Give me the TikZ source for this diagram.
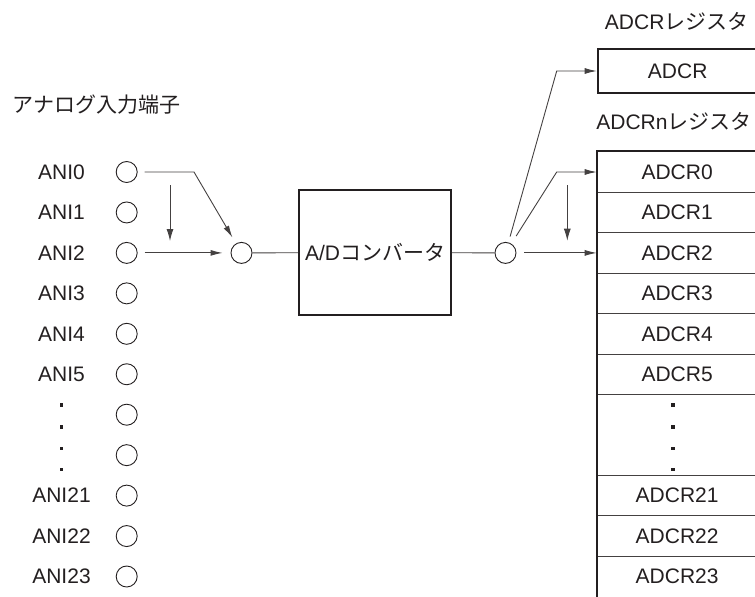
\documentclass[tikz,border=0pt]{standalone}
\usepackage{fontspec}
\setmainfont{Liberation Sans}
\newfontfamily\jp{Noto Sans CJK JP}
\usetikzlibrary{arrows.meta,calc}
\definecolor{ink}{HTML}{231F20}
\begin{document}
\begin{tikzpicture}[x=1pt,y=-1pt,
  font=\fontsize{21}{25}\selectfont, text=ink,
  pin/.style={circle,draw=ink,line width=0.9pt,minimum size=21pt,inner sep=0pt},
  lbl/.style={inner sep=0pt,anchor=center},
  wire/.style={draw=ink!85,line width=0.9pt},
  arr/.style={wire,-{Latex[length=12pt,width=6pt]}},
  heavy/.style={draw=ink,line width=2pt},
  regrow/.style={draw=ink!85,line width=0.8pt,minimum width=160pt,inner sep=0pt,anchor=west},
  dotsq/.style={fill=ink,inner sep=0pt,minimum size=3.6pt,rectangle}]
\useasboundingbox (0,0) rectangle (755,597);
\clip (0,0) rectangle (755,597);

% heading
\node[lbl] (hin) at (96.7,105) {\jp アナログ入力端子};

% analog inputs
\foreach \i/\t in {0/ANI0,1/ANI1,2/ANI2,3/ANI3,4/ANI4,5/ANI5,8/ANI21,9/ANI22,10/ANI23}{
  \node[lbl] (l\i) at (61.5,172+40.45*\i) {\t};
}
\foreach \i in {0,...,10}{
  \node[pin] (a\i) at (126.7,172+40.45*\i) {};
}
\foreach \y [count=\k] in {405,426.7,448.3,469.5}{
  \node[dotsq] (ld\k) at (61.5,\y) {};
}

% multiplexer, converter, demultiplexer
\node[pin] (mux) at (241.5,252.9) {};
\node[heavy,minimum width=151.7pt,minimum height=125pt,inner sep=0pt] (adc) at (375,252.5) {A/D{\jp コンバータ}};
\node[pin] (demux) at (505.5,252.9) {};

% registers
\node[lbl] (hr1) at (676.7,21.7) {ADCR{\jp レジスタ}};
\node[heavy,minimum width=160pt,minimum height=43.4pt,inner sep=0pt,anchor=west] (adcr) at (596.7,71) {ADCR};
\node[lbl] (hr2) at (674,121) {ADCRn{\jp レジスタ}};

\foreach \i/\t in {0/ADCR0,1/ADCR1,2/ADCR2,3/ADCR3,4/ADCR4,5/ADCR5,8/ADCR21,9/ADCR22}{
  \node[regrow,minimum height=40.45pt] (r\i) at (596.7,172+40.45*\i) {\t};
}
\node[regrow,draw=none,minimum height=40.45pt] (r10) at (596.7,172+40.45*10) {ADCR23};
\node[regrow,minimum height=80.9pt] (rd) at (596.7,172+40.45*6.5) {};
\foreach \y [count=\k] in {405,426.7,448.3,469.5}{
  \node[dotsq] (rdd\k) at (673,\y) {};
}
\draw[heavy] ([xshift=10pt]r0.north east) -- (r0.north west) -- ([yshift=-10pt]r10.south west);

% connectors
\coordinate (k0) at (194,172);
\draw[arr,shorten <=7pt,shorten >=7pt] (a0) -- (k0) -- (mux);
\draw[arr,shorten <=7pt,shorten >=8pt] (a2) -- (mux);
\draw[wire] (mux) -- (adc);
\draw[wire] (adc) -- (demux);

\coordinate (b1) at (556.7,71);
\coordinate (b2) at (556.7,172);
\draw[arr,shorten <=6pt] (demux) -- (b1) -- (adcr.west);
\draw[arr,shorten <=9pt] (demux) -- (b2) -- (r0.west);
\draw[arr,shorten <=8pt] (demux) -- (r2.west);

% sequence arrows
\coordinate (v1s) at (170,185);
\coordinate (v1e) at (170,241);
\draw[arr,-{Latex[length=12pt,width=7pt]}] (v1s) -- (v1e);
\coordinate (v2s) at (567.3,185);
\coordinate (v2e) at (567.3,240.7);
\draw[arr,-{Latex[length=12pt,width=7pt]}] (v2s) -- (v2e);
\end{tikzpicture}
\end{document}
